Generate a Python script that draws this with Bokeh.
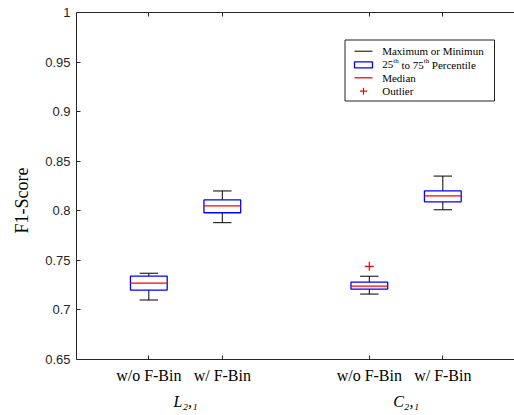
import numpy as np
from bokeh.plotting import figure
from bokeh.models import (Range1d, LinearAxis, FixedTicker, Label, BoxAnnotation, Title)
from bokeh.embed import file_html
from bokeh.resources import INLINE

# ---------------- data ----------------
positions = [1, 2, 4, 5]
tick_labels = ["w/o F-Bin", "w/ F-Bin", "w/o F-Bin", "w/ F-Bin"]
whisker_max = [0.737, 0.820, 0.734, 0.835]
q3 = [0.734, 0.811, 0.728, 0.820]
median = [0.727, 0.805, 0.724, 0.815]
q1 = [0.720, 0.798, 0.721, 0.809]
whisker_min = [0.710, 0.788, 0.716, 0.801]
outlier_x = [4]
outlier_y = [0.744]
group_centers = [1.5, 4.5]
group_labels = ["L\u2082,\u2081", "C\u2082,\u2081"]
y_ticks = [0.65, 0.7, 0.75, 0.8, 0.85, 0.9, 0.95, 1.0]
y_tick_labels = ["0.65", "0.7", "0.75", "0.8", "0.85", "0.9", "0.95", "1"]
legend_labels = ["Maximum or Minimun", "25th to 75th Percentile", "Median", "Outlier"]

# ---------------- layout ----------------
W, H = 514, 415
FL, FT, FB = 76, 12, 359          # frame left / top / bottom in px
X0, PXU = 0.016, 73.5              # x start and px per unit
X1 = X0 + (W - FL) / PXU
Y0, Y1 = 0.65, 1.0
PYU = (FB - FT) / (Y1 - Y0)

def px2x(px):
    return X0 + (px - FL) / PXU

def px2y(py):
    return Y1 - (py - FT) / PYU

AX = "#262626"
SERIF = "Liberation Serif"
SANS = "Liberation Sans"

p = figure(width=W, height=H, output_backend="svg", toolbar_location=None,
           x_range=Range1d(X0, X1), y_range=Range1d(Y0, Y1),
           x_axis_location=None, y_axis_location=None,
           min_border_left=FL, min_border_top=FT, min_border_bottom=H - FB,
           min_border_right=0)
p.outline_line_color = None
p.grid.visible = False
p.background_fill_color = "white"
p.border_fill_color = "white"

# axes
xb = LinearAxis(ticker=FixedTicker(ticks=positions),
                major_label_overrides={pos: lab for pos, lab in zip(positions, tick_labels)})
xt = LinearAxis(ticker=FixedTicker(ticks=positions),
                major_label_overrides={pos: "" for pos in positions},
                major_label_standoff=0)
yl = LinearAxis(ticker=FixedTicker(ticks=y_ticks),
                major_label_overrides={t: s for t, s in zip(y_ticks, y_tick_labels)})
for ax in (xb, xt, yl):
    ax.axis_line_color = AX
    ax.major_tick_line_color = AX
    ax.major_tick_in = 4
    ax.major_tick_out = 0
    ax.minor_tick_line_color = None
xb.major_label_text_font = SERIF
xb.major_label_text_font_size = "16px"
xb.major_label_text_color = "black"
xb.major_label_standoff = 7
yl.major_label_text_font = SANS
yl.major_label_text_font_size = "13px"
yl.major_label_text_color = AX
yl.major_label_standoff = 6

# group labels as a second, line-less bottom axis
xg = LinearAxis(ticker=FixedTicker(ticks=group_centers),
                major_label_overrides={c: lab for c, lab in zip(group_centers, group_labels)},
                axis_line_color=None, major_tick_line_color=None, minor_tick_line_color=None,
                major_tick_in=0, major_tick_out=0, major_label_standoff=6,
                major_label_text_font=SERIF, major_label_text_font_style="italic",
                major_label_text_font_size="16px", major_label_text_color="black")

p.add_layout(xb, "below")
p.add_layout(xg, "below")
p.add_layout(xt, "above")
p.add_layout(yl, "left")

# y axis title
p.add_layout(Title(text="F1-Score", align="left", offset=FB - 233, vertical_align="top",
                   text_font=SERIF, text_font_size="18px", text_font_style="normal",
                   text_color="black", standoff=18), "left")

# ---------------- boxes ----------------
pos = np.array(positions, dtype=float)
bw, cw = 0.5, 0.25
p.segment(pos, q3, pos, whisker_max, line_color="black", line_width=1)
p.segment(pos, whisker_min, pos, q1, line_color="black", line_width=1)
p.segment(pos - cw / 2, whisker_max, pos + cw / 2, whisker_max, line_color="black", line_width=1)
p.segment(pos - cw / 2, whisker_min, pos + cw / 2, whisker_min, line_color="black", line_width=1)
p.vbar(x=pos, width=bw, top=q3, bottom=q1, fill_color=None, line_color="#0000FF", line_width=1.3)
p.segment(pos - bw / 2, median, pos + bw / 2, median, line_color="#FF0000", line_width=1.3)
p.scatter(outlier_x, outlier_y, marker="cross", size=9, line_color="#FF0000", line_width=1.2)

# ---------------- legend ----------------
p.add_layout(BoxAnnotation(left=px2x(344.5), right=px2x(494), top=px2y(39.5), bottom=px2y(100.5),
                           fill_color="white", fill_alpha=1, line_color="#222222", line_alpha=1,
                           line_width=1, level="underlay"))
rows = [50.7, 64.3, 77.3, 90.7]
lx0, lx1 = px2x(354), px2x(372)
p.segment([lx0], [px2y(rows[0])], [lx1], [px2y(rows[0])], line_color="black", line_width=1, level="overlay")
p.quad(left=[lx0], right=[lx1], top=[px2y(rows[1] - 3)], bottom=[px2y(rows[1] + 3)],
       fill_color="white", line_color="#0000FF", line_width=1.3, level="overlay")
p.segment([lx0], [px2y(rows[2])], [lx1], [px2y(rows[2])], line_color="#FF0000", line_width=1.3, level="overlay")
p.scatter([(lx0 + lx1) / 2], [px2y(rows[3])], marker="cross", size=7, line_color="#FF0000",
          line_width=1.2, level="overlay")

def ltext(px, py, txt, size="11px"):
    p.add_layout(Label(x=px - FL, y=FB - py, x_units="screen", y_units="screen", text=txt,
                       text_align="left", text_baseline="middle", text_font=SERIF,
                       text_font_size=size, text_color="black", level="overlay"))

tx = 381.7
ltext(tx, rows[0], legend_labels[0])
# row with superscripts: "25th to 75th Percentile"
b = rows[1]
ltext(tx, b, "25")
ltext(tx + 11.0, b - 3.5, "th", "7px")
ltext(tx + 19.2, b, "to 75")
ltext(tx + 41.5, b - 3.5, "th", "7px")
ltext(tx + 49.6, b, "Percentile")
ltext(tx, rows[2], legend_labels[2])
ltext(tx, rows[3], legend_labels[3])

open("out.html", "w").write(file_html(p, INLINE))
